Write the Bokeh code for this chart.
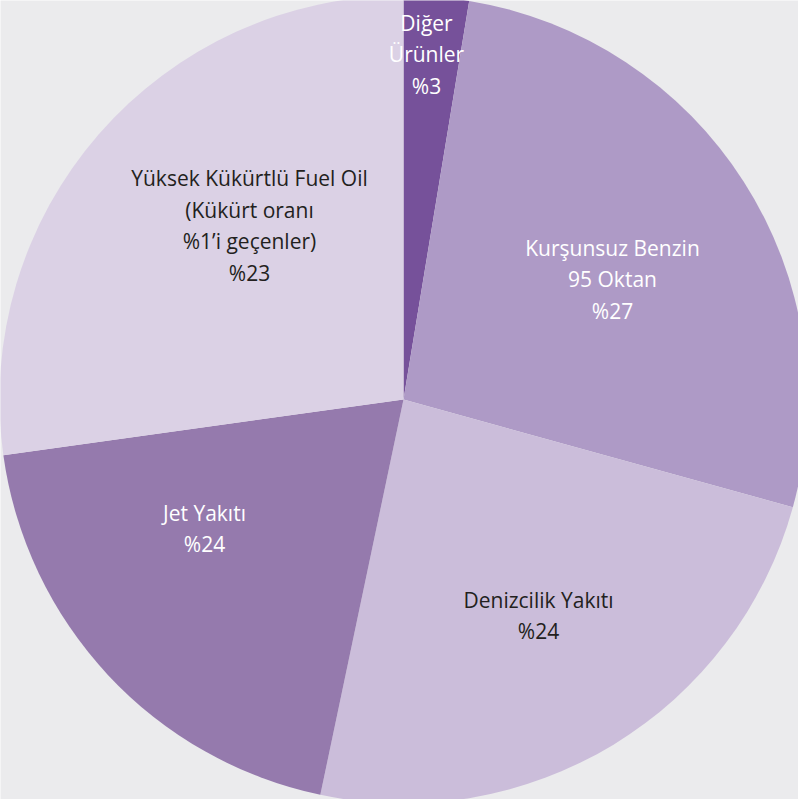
import math
from bokeh.plotting import figure
from bokeh.models import Range1d, ColumnDataSource
from bokeh.core.properties import value
from bokeh.embed import file_html
from bokeh.resources import INLINE

# ---- data ----
categories = ["Diğer Ürünler", "Kurşunsuz Benzin 95 Oktan", "Denizcilik Yakıtı",
              "Jet Yakıtı", "Yüksek Kükürtlü Fuel Oil"]
shares = [2.6, 26.7, 24.0, 19.5, 27.2]          # slice sizes as drawn (percent)
labels = ["Diğer\nÜrünler\n%3",
          "Kurşunsuz Benzin\n95 Oktan\n%27",
          "Denizcilik Yakıtı\n%24",
          "Jet Yakıtı\n%24",
          "Yüksek Kükürtlü Fuel Oil\n(Kükürt oranı\n%1’i geçenler)\n%23"]

# ---- style ----
colors = ["#76519a", "#ae9ac6", "#cbbdda", "#957aad", "#dbd1e5"]
text_colors = ["#ffffff", "#ffffff", "#231f20", "#ffffff", "#231f20"]
bg = "#ebebed"

W, H = 798, 799
cx, cy = 403, 400      # pie centre in plot units (1 unit = 1 px)
R = 404
# label offsets from centre (px, y up)
label_dx = [23, 209, 135, -199, -154]
label_dy = [345, 120, -216, -129, 174]

total = sum(shares)
starts, ends = [], []
cum = 0.0
for s in shares:
    a0 = math.pi / 2 - 2 * math.pi * cum / total
    cum += s
    a1 = math.pi / 2 - 2 * math.pi * cum / total
    starts.append(a0)
    ends.append(a1)

src = ColumnDataSource(dict(
    cat=categories, start=starts, end=ends, color=colors,
    x=[cx] * len(shares), y=[cy] * len(shares)))

lsrc = ColumnDataSource(dict(
    text=labels, tc=text_colors,
    x=[cx + d for d in label_dx], y=[cy + d for d in label_dy]))

p = figure(width=W, height=H, x_range=Range1d(0, W), y_range=Range1d(0, H),
           output_backend="svg", toolbar_location=None, min_border=0,
           background_fill_color=bg, border_fill_color=bg, outline_line_color=None)
p.axis.visible = False
p.grid.visible = False

p.wedge(x="x", y="y", radius=R, start_angle="start", end_angle="end",
        direction="clock", fill_color="color", line_color=None, source=src)

p.text(x="x", y="y", text="text", text_color="tc", source=lsrc,
       text_align="center", text_baseline="middle",
       text_font=value("Open Sans"), text_font_size="21px",
       text_line_height=1.12)

open("out.html", "w").write(file_html(p, INLINE))
